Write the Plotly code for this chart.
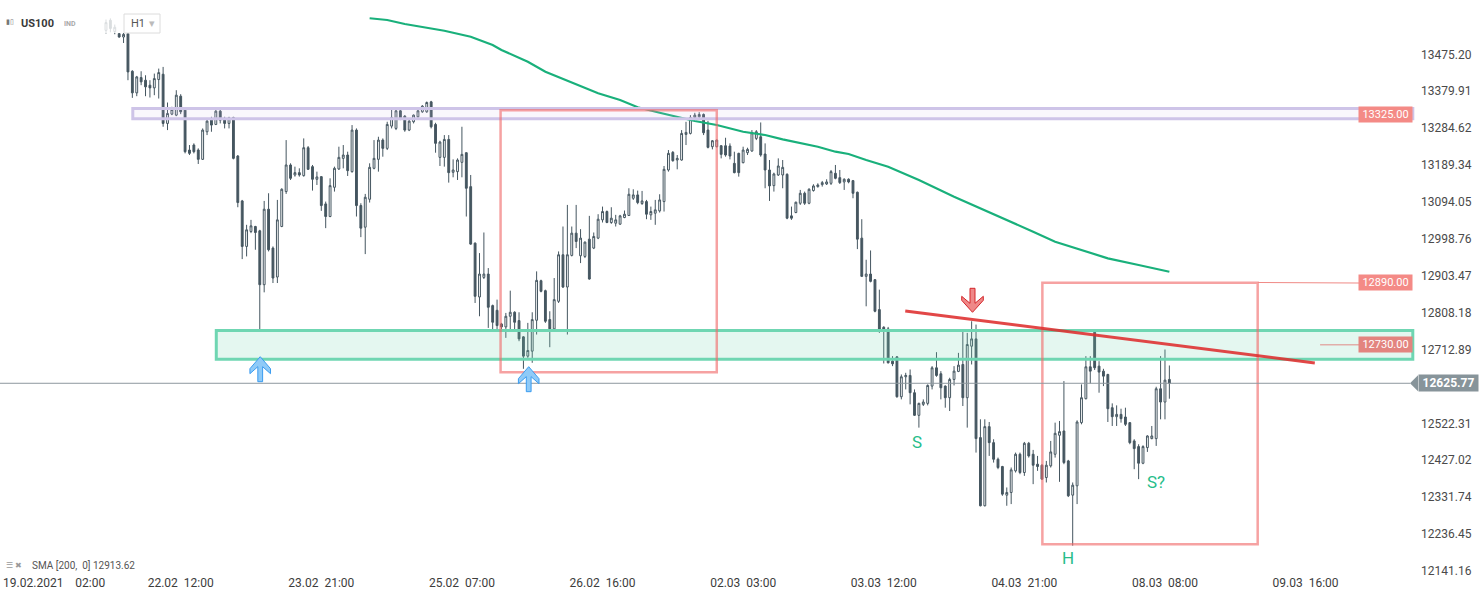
import plotly.graph_objects as go

# ---------------- data (US100, H1) ----------------
open_ = [13537,13563,13534,13528.4,13519.8,13528.4,13431.4,13375.6,13415.1,13408.3,
 13395.4,13388.5,13410.0,13423.7,13296.7,13320.7,13318.1,13367.0,13331.0,13228.0,
 13240.9,13228.0,13204.0,13275.2,13305.2,13294.1,13328.4,13309.5,13296.7,13312.1,
 13212.5,13096.6,12979.1,13017.7,13030.6,13019.4,12880.3,13075.2,12974.8,12900.1,
 13030.6,13120.7,13189.4,13163.6,13169.6,13161.9,13234.0,13185.1,13152.4,13159.3,
 13088.9,13056.3,13131.8,13179.1,13206.5,13215.1,13172.2,13279.5,13084.6,13028.8,
 13100.9,13180.8,13204.0,13253.7,13232.3,13289.8,13283.8,13329.3,13315.5,13279.5,
 13301.0,13313.8,13326.7,13326.7,13352.4,13294.1,13209.1,13209.1,13255.4,13170.5,
 13172.2,13196.2,13221.1,13133.5,12987.6,12848.6,12899.2,12907.8,12826.3,12814.2,
 12779.0,12771.3,12798.8,12809.1,12787.6,12745.6,12695.8,12708.7,12788.5,12890.6,
 12864.9,12790.2,12766.2,12837.4,12957.6,12874.3,12955.9,13013.4,12955.0,12953.3,
 12997.9,12974.8,13000.5,13047.7,13069.2,13040.9,13039.1,13036.6,13053.7,13058.9,
 13103.5,13112.1,13089.8,13094.9,13060.6,13064.9,13070.9,13094.9,13176.5,13222.0,
 13202.2,13202.2,13268.3,13270.9,13312.1,13313.8,13319.8,13279.5,13236.6,13236.6,
 13239.1,13239.1,13238.3,13193.6,13219.4,13195.4,13221.1,13225.4,13258.0,13262.3,
 13217.7,13176.5,13136.1,13163.6,13163.6,13165.3,13058.0,13066.6,13090.6,13116.4,
 13090.6,13123.3,13133.5,13138.7,13140.4,13142.1,13167.9,13156.7,13145.6,13152.5,
 13149.0,13119.0,13000.5,12901.8,12907.8,12893.2,12816.0,12770.5,12766.2,12682.9,
 12694.0,12591.0,12642.5,12646.0,12601.4,12543.0,12571.3,12573.9,12618.5,12665.7,
 12650.3,12618.5,12588.5,12635.7,12656.3,12674.3,12588.5,12721.5,12740.4,12485.5,
 12309.5,12513.8,12472.5,12429.6,12410.8,12336.9,12343.8,12399.6,12442.5,12395.3,
 12470.8,12442.5,12416.8,12414.2,12382.4,12412.5,12442.5,12491.5,12502.6,12425.3,
 12336.9,12361.0,12524.1,12585.9,12668.3,12757.6,12670.0,12657.1,12648.5,12562.7,
 12539.5,12545.5,12538.7,12524.1,12476.9,12462.3,12419.3,12459.7,12482.9,12482.9,
 12611.6,12577.3,12635.7]
high = [13565,13568,13552,13530.1,13530.1,13530.1,13434.0,13419.4,13431.4,13421.1,
 13408.3,13425.4,13438.3,13442.6,13350.7,13339.6,13382.5,13372.2,13337.9,13240.9,
 13245.2,13232.3,13283.8,13307.0,13313.8,13331.0,13332.7,13313.8,13313.8,13313.8,
 13215.1,13099.2,13034.9,13047.7,13032.3,13022.0,13096.6,13116.4,12979.1,13099.2,
 13129.3,13253.7,13193.7,13185.1,13180.8,13258.0,13238.3,13189.4,13172.2,13160.5,
 13094.9,13155.0,13185.1,13236.6,13240.9,13223.7,13292.4,13283.8,13090.6,13114.7,
 13193.7,13253.7,13262.3,13258.0,13301.0,13332.7,13331.0,13332.7,13318.1,13309.5,
 13319.8,13332.7,13343.9,13353.3,13355.0,13298.4,13252.0,13266.6,13266.6,13203.9,
 13206.5,13288.1,13222.0,13163.6,12989.3,12961.9,13015.1,12923.2,12828.9,12841.7,
 12781.7,12807.4,12864.9,12811.7,12809.1,12747.3,12781.7,12809.1,12914.7,12893.2,
 12867.5,12811.7,12897.5,12966.2,13030.5,13086.3,13030.5,13086.3,13023.7,12991.9,
 13058.0,13015.1,13062.3,13082.0,13071.8,13080.3,13060.6,13060.6,13071.8,13129.3,
 13126.7,13123.2,13122.4,13099.2,13082.0,13099.2,13113.8,13186.8,13228.0,13225.4,
 13215.1,13279.5,13300.9,13318.1,13324.1,13325.8,13322.4,13303.5,13253.7,13255.0,
 13240.9,13259.7,13245.2,13223.7,13221.1,13236.6,13234.0,13279.5,13279.5,13299.2,
 13245.2,13202.2,13169.6,13206.5,13202.2,13167.9,13082.0,13094.9,13125.0,13120.7,
 13129.3,13139.6,13142.1,13148.2,13152.5,13176.5,13189.4,13176.5,13155.0,13155.0,
 13150.7,13120.7,13049.4,12944.7,12968.7,12894.9,12867.5,12773.0,12771.3,12695.8,
 12695.8,12648.5,12652.8,12661.4,12609.9,12575.6,12584.2,12622.8,12670.0,12706.1,
 12657.1,12620.2,12640.0,12670.0,12704.3,12760.1,12755.9,12785.9,12777.3,12532.7,
 12532.7,12525.8,12481.2,12433.9,12412.5,12356.7,12408.2,12446.8,12446.8,12474.3,
 12474.3,12453.7,12438.2,12416.8,12425.3,12476.9,12524.1,12528.4,12631.4,12428.0,
 12369.6,12530.1,12622.8,12695.8,12695.8,12760.1,12682.9,12663.1,12650.3,12573.9,
 12568.7,12560.1,12562.7,12525.8,12481.2,12468.3,12465.7,12491.5,12515.5,12616.8,
 12695.8,12712.9,12671.7]
low = [13529,13532,13527,13518.1,13504.4,13408.3,13362.7,13367.0,13395.4,13367.0,
 13363.6,13369.6,13361.0,13288.1,13279.5,13318.1,13315.5,13320.7,13219.4,13215.1,
 13219.4,13192.0,13202.3,13266.6,13275.2,13292.4,13296.7,13283.8,13283.8,13204.0,
 13080.3,12946.4,12953.3,13013.4,12970.5,12760.2,12860.6,12966.2,12884.6,12884.6,
 13028.8,13114.7,13150.7,13159.3,13159.3,13159.3,13176.5,13123.3,13137.8,13070.9,
 13026.3,13054.6,13120.7,13176.5,13180.8,13161.0,13169.6,13056.3,13003.1,12959.3,
 13092.4,13178.2,13172.2,13210.8,13228.0,13283.8,13279.5,13305.2,13275.2,13276.9,
 13296.7,13311.2,13324.1,13324.1,13283.8,13221.1,13186.8,13185.1,13143.9,13157.6,
 13150.7,13157.6,13056.3,12983.3,12833.1,12798.8,12894.9,12768.7,12764.5,12764.5,
 12764.5,12743.0,12764.5,12764.5,12734.4,12663.1,12691.5,12678.6,12751.6,12860.6,
 12781.7,12718.9,12764.5,12833.1,12871.7,12751.6,12953.3,12974.8,12936.1,12949.0,
 12893.2,12972.2,12997.9,13040.9,13039.1,13037.4,13030.5,13034.9,13052.0,13058.0,
 13099.2,13088.1,13086.3,13049.4,13047.7,13034.9,13066.6,13069.2,13172.2,13197.9,
 13178.2,13200.5,13240.9,13268.3,13309.5,13309.5,13266.6,13232.3,13229.7,13234.9,
 13206.5,13210.8,13203.9,13167.9,13159.3,13193.6,13215.1,13223.7,13253.7,13210.8,
 13129.3,13096.6,13120.7,13161.0,13129.3,13049.4,13047.7,13064.9,13086.3,13086.3,
 13088.1,13120.7,13131.0,13133.5,13137.8,13137.8,13152.5,13140.4,13125.0,13142.1,
 13103.5,12972.2,12900.1,12824.5,12886.3,12809.1,12755.9,12676.9,12676.9,12670.0,
 12588.5,12584.2,12609.9,12571.3,12541.3,12511.2,12567.0,12568.7,12609.9,12642.5,
 12584.2,12562.7,12554.1,12620.2,12654.6,12567.0,12511.2,12674.3,12446.8,12307.8,
 12307.8,12438.2,12421.0,12403.9,12335.2,12309.5,12313.8,12395.3,12391.0,12386.7,
 12433.9,12365.3,12399.6,12376.4,12369.6,12408.2,12433.9,12371.3,12416.8,12332.0,
 12206.5,12313.8,12519.8,12584.2,12625.4,12660.0,12601.4,12618.5,12525.8,12515.5,
 12515.5,12524.1,12515.5,12468.3,12403.9,12378.2,12416.8,12448.5,12481.2,12464.0,
 12532.7,12532.7,12585.9]
close = [13557,13542,13545,13519.8,13526.7,13429.7,13375.6,13416.8,13404.0,13391.1,
 13388.5,13412.5,13428.0,13296.7,13322.4,13332.7,13369.6,13326.7,13223.7,13219.4,
 13223.7,13204.0,13279.5,13302.7,13292.4,13328.4,13305.2,13296.7,13311.2,13206.5,
 13092.4,12979.1,13022.0,13032.3,13015.1,12880.3,13075.2,12970.5,12897.5,13047.7,
 13126.7,13189.4,13155.0,13169.6,13163.6,13234.0,13178.2,13152.4,13158.5,13084.6,
 13056.3,13136.1,13180.8,13209.1,13215.1,13174.8,13279.5,13084.6,13026.3,13106.1,
 13183.4,13206.5,13253.7,13232.3,13294.1,13312.1,13329.3,13309.5,13279.5,13302.7,
 13318.1,13329.3,13341.3,13350.7,13288.1,13245.2,13248.6,13255.4,13169.6,13176.5,
 13202.2,13216.8,13129.3,12985.1,12850.3,12907.8,12907.8,12822.0,12783.3,12774.7,
 12771.3,12798.8,12809.1,12783.3,12740.4,12695.8,12710.4,12790.2,12891.5,12863.2,
 12785.9,12766.2,12841.7,12957.6,12874.3,12957.6,13013.4,12991.9,13000.5,12990.2,
 12894.9,13004.8,13049.4,13069.2,13040.9,13052.0,13047.7,13058.0,13062.3,13113.8,
 13112.1,13092.3,13096.6,13062.3,13069.2,13073.5,13099.2,13178.2,13219.4,13200.5,
 13206.5,13270.9,13273.5,13312.1,13318.1,13319.8,13272.6,13234.9,13252.0,13253.7,
 13216.8,13215.1,13212.5,13169.6,13169.6,13228.0,13229.7,13272.6,13275.2,13215.1,
 13176.5,13135.3,13166.2,13186.8,13183.3,13052.0,13052.0,13093.2,13116.4,13090.6,
 13126.7,13135.3,13137.8,13143.9,13145.6,13172.2,13155.0,13143.9,13152.5,13145.6,
 13116.4,12997.9,12901.8,12907.8,12888.9,12811.7,12764.5,12764.5,12678.6,12676.0,
 12591.0,12642.5,12646.0,12601.4,12543.0,12573.9,12577.3,12620.2,12665.7,12646.0,
 12614.2,12588.5,12635.7,12657.1,12672.6,12588.5,12725.8,12740.4,12482.9,12309.5,
 12513.8,12472.5,12429.6,12408.2,12339.5,12343.8,12402.2,12442.5,12395.3,12470.8,
 12438.2,12414.2,12410.8,12378.2,12414.2,12448.5,12496.6,12500.9,12421.0,12335.2,
 12362.7,12525.8,12588.5,12668.3,12657.1,12665.7,12654.6,12644.2,12560.1,12539.5,
 12545.5,12534.4,12519.8,12472.5,12457.1,12419.3,12462.3,12489.7,12489.7,12611.6,
 12577.3,12633.9,12625.77]
bar_index = list(range(len(close)))

sma_index = [60, 64, 68, 72, 77, 83, 88, 90, 96, 100, 105, 109, 112, 117, 121, 126,
             134, 139, 145, 150, 154, 162, 166, 169, 173, 178, 185, 193, 200, 205,
             211, 216, 222, 228, 235, 242]
sma_value = [13568.2, 13563.8, 13553.4, 13546.5, 13536.1, 13520.6, 13499.2, 13486.3,
             13456.1, 13430.3, 13406.3, 13388.9, 13374.5, 13357.2, 13338.3, 13324.4,
             13303.0, 13292.6, 13275.3, 13266.8, 13255.7, 13236.6, 13223.7, 13217.7,
             13202.2, 13184.9, 13150.6, 13107.5, 13073.1, 13047.3, 13017.1, 12991.3,
             12969.8, 12948.4, 12931.1, 12913.62]

price_ticks = [13475.20, 13379.91, 13284.62, 13189.34, 13094.05, 12998.76, 12903.47,
               12808.18, 12712.89, 12522.31, 12427.02, 12331.74, 12236.45, 12141.16]
time_tick_pos = [-11.8, 17, 49, 81, 113, 145, 177, 209, 241, 273]
time_tick_text = ["19.02.2021\u00a0\u00a0\u00a0\u00a002:00", "22.02\u00a0\u00a012:00",
                  "23.02\u00a0\u00a021:00", "25.02\u00a0\u00a007:00", "26.02\u00a0\u00a016:00",
                  "02.03\u00a0\u00a003:00", "03.03\u00a0\u00a012:00", "04.03\u00a0\u00a021:00",
                  "08.03\u00a0\u00a008:00", "09.03\u00a0\u00a016:00"]

last_price = 12625.77
sma_last = 12913.62
resistance_zone = (13309, 13335)   # purple
support_zone = (12688, 12762)      # green
level_labels = [13325.00, 12890.00, 12730.00]
trend_start = (181.9, 12812.3)
trend_end = (275.1, 12678.3)
box1 = (89.8, 139.0, 12654.3, 13330.6)
box2 = (213.1, 262.1, 12209.8, 12885.4)
pattern_labels = [("S", 184.6, 12474.0), ("H", 218.9, 12174.5), ("S?", 239.0, 12370.7)]

# ---------------- figure ----------------
DARK = "#455660"
FONT = "Roboto"
W, H = 1482, 598
PW, PH = 1415, 574  # plot area in px

fig = go.Figure()
fig.add_trace(go.Candlestick(
    x=bar_index, open=open_, high=high, low=low, close=close,
    increasing=dict(line=dict(color=DARK, width=1), fillcolor="white"),
    decreasing=dict(line=dict(color=DARK, width=1), fillcolor=DARK),
    whiskerwidth=0, showlegend=False, hoverinfo="skip"))
fig.add_trace(go.Scatter(x=sma_index, y=sma_value, mode="lines",
                         line=dict(color="#19b07b", width=2.2), showlegend=False,
                         hoverinfo="skip"))

shapes = []
# zones
shapes.append(dict(type="rect", xref="x", yref="y", x0=6.1, x1=297.4,
                   y0=resistance_zone[0], y1=resistance_zone[1],
                   line=dict(color="#cec4e8", width=3), fillcolor="rgba(205,195,235,0.13)"))
shapes.append(dict(type="rect", xref="x", yref="y", x0=25.1, x1=297.4,
                   y0=support_zone[0], y1=support_zone[1],
                   line=dict(color="#6fd6b2", width=3), fillcolor="rgba(110,214,177,0.19)"))
# red boxes
for bx in (box1, box2):
    shapes.append(dict(type="rect", xref="x", yref="y", x0=bx[0], x1=bx[1], y0=bx[2], y1=bx[3],
                       line=dict(color="rgba(240,105,105,0.62)", width=2.5),
                       fillcolor="rgba(0,0,0,0)"))
# trend line
shapes.append(dict(type="line", xref="x", yref="y", x0=trend_start[0], y0=trend_start[1],
                   x1=trend_end[0], y1=trend_end[1],
                   line=dict(color="rgba(222,45,45,0.88)", width=3)))
# last price line
shapes.append(dict(type="line", xref="paper", yref="y", x0=0, x1=1410 / PW,
                   y0=last_price, y1=last_price, line=dict(color="#8d989e", width=1)))
# connectors to level tags
shapes.append(dict(type="line", xref="x", yref="y", x0=262.1, x1=285.4, y0=12886, y1=12884.6,
                   line=dict(color="#f08a86", width=1)))
shapes.append(dict(type="line", xref="x", yref="y", x0=276.3, x1=285.4, y0=12725, y1=12725,
                   line=dict(color="#e08a86", width=1)))

up_arrow = "M 0 0 L 10.3 -12 L 10.3 -17 L 2.4 -10 L 2.4 -25 L -2.4 -25 L -2.4 -10 L -10.3 -17 L -10.3 -12 Z"
down_arrow = "M 0 0 L 10.8 12 L 10.8 16 L 2.5 9 L 2.5 24 L -2.5 24 L -2.5 9 L -10.8 16 L -10.8 12 Z"
for ax_, ay_ in [(35.1, 12694.4), (96.2, 12668.6)]:
    shapes.append(dict(type="path", xref="x", yref="y", xsizemode="pixel", ysizemode="pixel",
                       xanchor=ax_, yanchor=ay_, path=up_arrow,
                       fillcolor="#8fcaf7", line=dict(color="#3b9cf0", width=1)))
shapes.append(dict(type="path", xref="x", yref="y", xsizemode="pixel", ysizemode="pixel",
                   xanchor=197.2, yanchor=12809, path=down_arrow,
                   fillcolor="#ef8888", line=dict(color="#d3262b", width=1)))

# header overlay + H1 box
shapes.append(dict(type="rect", xref="paper", yref="paper", x0=0, x1=165 / PW,
                   y0=1 - 33 / PH, y1=1, line=dict(width=0), fillcolor="rgba(255,255,255,0.8)"))
shapes.append(dict(type="rect", xref="paper", yref="paper", x0=124 / PW, x1=160 / PW,
                   y0=1 - 33 / PH, y1=1 - 14 / PH, line=dict(color="#dcdcdc", width=1),
                   fillcolor="white"))
# price tag pointer
shapes.append(dict(type="path", xref="paper", yref="y", xsizemode="pixel", ysizemode="pixel",
                   xanchor=1418 / PW, yanchor=last_price, path="M 0 8 L -8 0 L 0 -8 Z",
                   fillcolor="#87949a", line=dict(width=0)))

ann = []
def px_ann(text, x, y, size, color, anchor="left", **kw):
    ann.append(dict(text=text, xref="paper", yref="paper", x=x / PW, y=1 - y / PH,
                    xanchor=anchor, yanchor="middle", showarrow=False,
                    font=dict(family=FONT, size=size, color=color), **kw))

px_ann("<b>US100</b>", 19, 23, 11, "#3a3a3a")
px_ann("<b>IND</b>", 62, 24, 7, "#a8a8a8")
px_ann("▮▯", 4, 22, 7, "#777777")
px_ann("H1", 129, 23.5, 11, "#555555")
px_ann("▾", 147, 23.5, 11, "#bbbbbb")
px_ann("☰ ✖", 4, 565, 8, "#9a9a9a")
px_ann("SMA [200,\u00a0 0] 12913.62", 30, 565, 10, "#555555")

# level tags
tag_colors = ["#f48a86", "#f48a86", "#e3847f"]
tag_y = [13319.7, 12886.0, 12725.8]
for lv, yy, col in zip(level_labels, tag_y, tag_colors):
    ann.append(dict(text=f"{lv:.2f}", xref="paper", yref="y", x=1413 / PW, y=yy,
                    xanchor="right", yanchor="middle", showarrow=False, width=53, height=15,
                    bgcolor=col, borderpad=0, font=dict(family=FONT, size=11, color="white")))
ann.append(dict(text=f"<b>{last_price:.2f}</b>", xref="paper", yref="y", x=1418 / PW,
                y=last_price, xanchor="left", yanchor="middle", showarrow=False, width=59,
                height=16, bgcolor="#87949a", borderpad=0,
                font=dict(family=FONT, size=12, color="white")))
for t, xx, yy in pattern_labels:
    ann.append(dict(text=t, xref="x", yref="y", x=xx, y=yy, showarrow=False,
                    font=dict(family=FONT, size=17, color="#27bd8a")))

fig.update_layout(
    width=W, height=H, margin=dict(l=0, r=W - PW, t=0, b=H - PH),
    paper_bgcolor="white", plot_bgcolor="white", boxgap=0.4,
    shapes=shapes, annotations=ann, showlegend=False,
    xaxis=dict(range=[-24.12, 297.9], showgrid=False, zeroline=False, showline=False,
               ticks="", tickvals=time_tick_pos, ticktext=time_tick_text,
               tickfont=dict(family=FONT, size=12, color="#3c3c3c"),
               rangeslider=dict(visible=False), fixedrange=True),
    yaxis=dict(range=[12133.3, 13615.4], side="right", showgrid=False, zeroline=False,
               showline=False, ticks="", tickvals=price_ticks,
               ticktext=[f"{v:.2f}" for v in price_ticks], ticklabelstandoff=5,
               tickfont=dict(family=FONT, size=12, color="#4a4a4a"), fixedrange=True),
)
fig.write_html("out.html", config={"displayModeBar": False},
               post_script="document.body.style.margin='0';document.body.style.padding='0';")
